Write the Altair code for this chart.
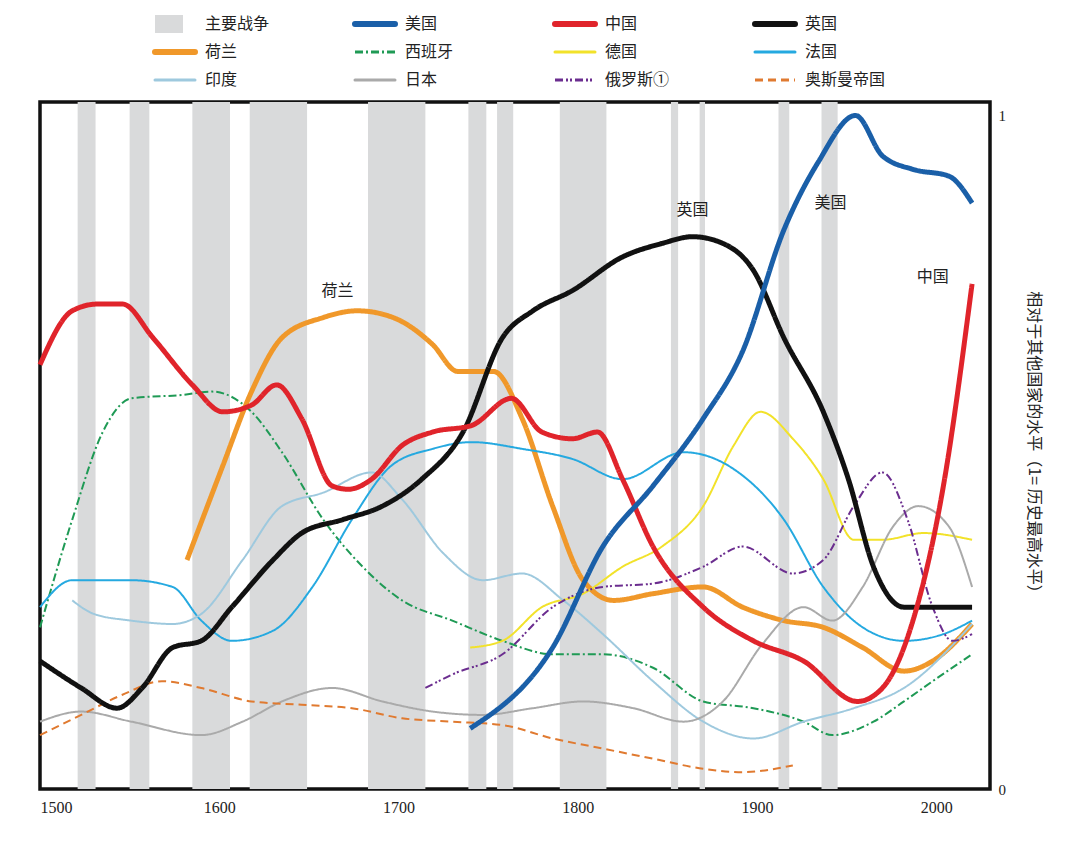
import altair as alt
import pandas as pd

# war periods (start, end)
war_start = [1521, 1550, 1585, 1617, 1683, 1739, 1755, 1790, 1852, 1868, 1912, 1936]
war_end = [1531, 1561, 1606, 1649, 1715, 1749, 1764, 1816, 1856, 1871, 1918, 1945]

us_year = [1740, 1786, 1814, 1842, 1870, 1892, 1915, 1934, 1955, 1970, 1987, 2007, 2020]
us_val = [0.09, 0.21, 0.36, 0.45, 0.55, 0.65, 0.83, 0.93, 1.0, 0.94, 0.92, 0.91, 0.87]

cn_year = [1500, 1518, 1532, 1546, 1563, 1585, 1602, 1618, 1632, 1646, 1663, 1672, 1685, 1702, 1719,
           1741, 1763, 1780, 1797, 1811, 1825, 1842, 1870, 1898, 1926, 1956, 1970, 1987, 2004, 2020]
cn_val = [0.63, 0.71, 0.72, 0.72, 0.67, 0.60, 0.56, 0.57, 0.60, 0.55, 0.45, 0.445, 0.46, 0.51, 0.53,
          0.54, 0.58, 0.53, 0.52, 0.53, 0.46, 0.36, 0.27, 0.22, 0.19, 0.13, 0.15, 0.25, 0.45, 0.75]

uk_year = [1500, 1523, 1543, 1557, 1574, 1590, 1607, 1630, 1646, 1669, 1691, 1713, 1736, 1758, 1775,
           1797, 1825, 1847, 1864, 1881, 1898, 1915, 1937, 1951, 1965, 1982, 1998, 2020]
uk_val = [0.19, 0.15, 0.12, 0.15, 0.21, 0.22, 0.27, 0.34, 0.38, 0.40, 0.42, 0.46, 0.53, 0.67, 0.71,
          0.74, 0.79, 0.81, 0.82, 0.81, 0.77, 0.67, 0.56, 0.46, 0.33, 0.27, 0.27, 0.27]

nl_year = [1582, 1602, 1618, 1635, 1658, 1677, 1697, 1719, 1733, 1753, 1769, 1786, 1803, 1820, 1842,
           1870, 1892, 1915, 1937, 1959, 1982, 1998, 2020]
nl_val = [0.34, 0.48, 0.59, 0.67, 0.70, 0.71, 0.70, 0.66, 0.62, 0.62, 0.55, 0.42, 0.31, 0.28, 0.29,
          0.30, 0.27, 0.25, 0.24, 0.21, 0.175, 0.19, 0.245]

es_year = [1500, 1518, 1535, 1551, 1579, 1596, 1618, 1635, 1658, 1680, 1702, 1730, 1758, 1786, 1814,
           1842, 1870, 1898, 1926, 1942, 1965, 1982, 1998, 2020]
es_val = [0.24, 0.40, 0.53, 0.58, 0.585, 0.59, 0.56, 0.50, 0.40, 0.33, 0.28, 0.25, 0.22, 0.20, 0.20,
          0.18, 0.13, 0.12, 0.10, 0.08, 0.10, 0.13, 0.16, 0.20]

de_year = [1740, 1758, 1780, 1803, 1825, 1847, 1870, 1887, 1902, 1920, 1937, 1954, 1970, 1993, 2020]
de_val = [0.21, 0.22, 0.27, 0.29, 0.33, 0.36, 0.42, 0.51, 0.56, 0.52, 0.46, 0.37, 0.37, 0.38, 0.37]

fr_year = [1500, 1518, 1551, 1574, 1590, 1607, 1630, 1652, 1674, 1696, 1719, 1741, 1769, 1797, 1825,
           1859, 1887, 1915, 1937, 1959, 1982, 2004, 2020]
fr_val = [0.27, 0.31, 0.31, 0.30, 0.25, 0.22, 0.235, 0.30, 0.40, 0.48, 0.505, 0.515, 0.505, 0.49, 0.46,
          0.50, 0.475, 0.40, 0.30, 0.24, 0.22, 0.23, 0.25]

in_year = [1518, 1530, 1551, 1574, 1590, 1613, 1635, 1658, 1685, 1702, 1725, 1747, 1769, 1792, 1814,
           1842, 1870, 1898, 1926, 1954, 1982, 2020]
in_val = [0.28, 0.26, 0.25, 0.245, 0.26, 0.34, 0.42, 0.44, 0.47, 0.43, 0.35, 0.31, 0.32, 0.28, 0.23,
          0.16, 0.10, 0.075, 0.10, 0.12, 0.15, 0.245]

jp_year = [1500, 1523, 1551, 1590, 1613, 1635, 1663, 1691, 1719, 1747, 1775, 1803, 1831, 1859, 1881,
           1903, 1926, 1942, 1959, 1976, 1990, 2007, 2020]
jp_val = [0.10, 0.115, 0.10, 0.08, 0.10, 0.13, 0.15, 0.13, 0.115, 0.11, 0.12, 0.13, 0.12, 0.10, 0.13,
          0.215, 0.27, 0.25, 0.30, 0.39, 0.42, 0.39, 0.30]

ru_year = [1715, 1730, 1758, 1786, 1814, 1842, 1870, 1892, 1920, 1937, 1954, 1970, 1984, 1998, 2009, 2020]
ru_val = [0.15, 0.17, 0.20, 0.27, 0.30, 0.305, 0.33, 0.36, 0.32, 0.34, 0.42, 0.47, 0.40, 0.27, 0.22, 0.23]

ot_year = [1500, 1523, 1546, 1568, 1590, 1618, 1646, 1674, 1702, 1730, 1758, 1786, 1814, 1842, 1870,
           1892, 1920]
ot_val = [0.08, 0.11, 0.14, 0.16, 0.15, 0.13, 0.125, 0.12, 0.105, 0.10, 0.095, 0.075, 0.06, 0.045, 0.03,
          0.025, 0.035]

# name, years, values, colour, width, dash
series = [
    ("荷兰", nl_year, nl_val, "#f0982a", 5, [1, 0]),
    ("西班牙", es_year, es_val, "#1f9a55", 2, [8, 3, 2, 3]),
    ("德国", de_year, de_val, "#f2e22a", 2, [1, 0]),
    ("法国", fr_year, fr_val, "#25a9e0", 2, [1, 0]),
    ("印度", in_year, in_val, "#9ec9de", 2, [1, 0]),
    ("日本", jp_year, jp_val, "#aaaaaa", 2, [1, 0]),
    ("俄罗斯", ru_year, ru_val, "#6b2d8f", 2, [8, 3, 2, 2, 2, 3]),
    ("奥斯曼帝国", ot_year, ot_val, "#e07a30", 2, [8, 5]),
    ("英国", uk_year, uk_val, "#111111", 5, [1, 0]),
    ("中国", cn_year, cn_val, "#e0242b", 5, [1, 0]),
    ("美国", us_year, us_val, "#1a5fa8", 5, [1, 0]),
]

label_text = ["荷兰", "英国", "美国", "中国"]
label_year = [1666, 1864, 1941, 1998]
label_val = [0.74, 0.86, 0.87, 0.76]

legend_names = ["主要战争", "美国", "中国", "英国",
                "荷兰", "西班牙", "德国", "法国",
                "印度", "日本", "俄罗斯①", "奥斯曼帝国"]

CJK = "Noto Sans CJK SC"
SERIF = "Liberation Serif"
xs = alt.Scale(domain=[1500, 2030], nice=False, zero=False)
ys = alt.Scale(domain=[0, 1.02], nice=False)

wars = pd.DataFrame({"s": war_start, "e": war_end})
war_layer = alt.Chart(wars).mark_rect(color="#d9dadb").encode(
    x=alt.X("s:Q", scale=xs, axis=alt.Axis(values=[1500, 1600, 1700, 1800, 1900, 2000], format="d",
                                             ticks=False, domain=False, grid=False, labelFont=SERIF,
                                             labelFontSize=16, labelColor="#222", labelPadding=10,
                                             title=None)),
    x2="e:Q",
    y=alt.value(0),
    y2=alt.value(687),
)

layers = [war_layer]
for name, yrs, vals, col, w, dash in series:
    df = pd.DataFrame({"year": yrs, "v": vals})
    layers.append(alt.Chart(df).mark_line(color=col, strokeWidth=w, strokeDash=dash,
                                          interpolate="monotone").encode(
        x=alt.X("year:Q", scale=xs),
        y=alt.Y("v:Q", scale=ys, axis=alt.Axis(orient="right", values=[0, 1], format="d", ticks=False,
                                              domain=False, grid=False, labelFont=SERIF, labelFontSize=15,
                                              labelColor="#222", labelPadding=8,
                                              title="相对于其他国家的水平（1= 历史最高水平）",
                                              titleFont=CJK, titleFontSize=16, titleFontWeight="normal",
                                              titleAngle=90, titlePadding=20, titleColor="#222")),
    ))

labels = pd.DataFrame({"t": label_text, "year": label_year, "v": label_val})
layers.append(alt.Chart(labels).mark_text(font=CJK, fontSize=16, color="#222").encode(
    x=alt.X("year:Q", scale=xs), y=alt.Y("v:Q", scale=ys), text="t:N"))

main = alt.layer(*layers).properties(width=950, height=687,
                                     view=alt.ViewBackground(stroke="#111111", strokeWidth=3.5))

# legend
leg_color = ["#d9dadb", "#1a5fa8", "#e0242b", "#111111",
             "#f0982a", "#1f9a55", "#f2e22a", "#25a9e0",
             "#9ec9de", "#aaaaaa", "#6b2d8f", "#e07a30"]
leg_rows = []
for i, n in enumerate(legend_names):
    leg_rows.append({"name": n, "col": i % 4, "row": i // 4})
leg = pd.DataFrame(leg_rows)
lx = alt.Scale(domain=[-0.575, 4.175], nice=False, zero=False)
ly = alt.Scale(domain=[-0.5, 2.5], nice=False, reverse=True)
dash_map = {"西班牙": [8, 3, 2, 3], "俄罗斯①": [8, 3, 2, 2, 2, 3], "奥斯曼帝国": [8, 5]}
swatches = []
for i, n in enumerate(legend_names):
    w = 18 if n == "主要战争" else (6 if i in (1, 2, 3, 4) else 3)
    x2expr = "datum.col + 0.14" if n == "主要战争" else "datum.col + 0.2"
    cap = "butt" if n == "主要战争" or n in dash_map else "round"
    swatches.append(alt.Chart(leg).transform_filter(alt.datum.name == n).transform_calculate(
        x2=x2expr).mark_rule(color=leg_color[i], strokeWidth=w, strokeDash=dash_map.get(n, [1, 0]),
                            strokeCap=cap).encode(
        x=alt.X("col:Q", scale=lx, axis=None), x2="x2:Q",
        y=alt.Y("row:Q", scale=ly, axis=None)))
texts = alt.Chart(leg).transform_calculate(tx="datum.col + 0.25").mark_text(
    font=CJK, fontSize=16, align="left", color="#222").encode(
    x=alt.X("tx:Q", scale=lx, axis=None), y=alt.Y("row:Q", scale=ly, axis=None), text="name:N")
legend = alt.layer(*swatches, texts).properties(width=950, height=84,
                                                 view=alt.ViewBackground(stroke=None))

chart = alt.vconcat(legend, main, spacing=6).properties(
    padding={"left": 20, "top": 2, "right": 5, "bottom": 5}
).configure(background="white")

chart.save("out.html", embed_options={"renderer": "svg", "actions": False})
